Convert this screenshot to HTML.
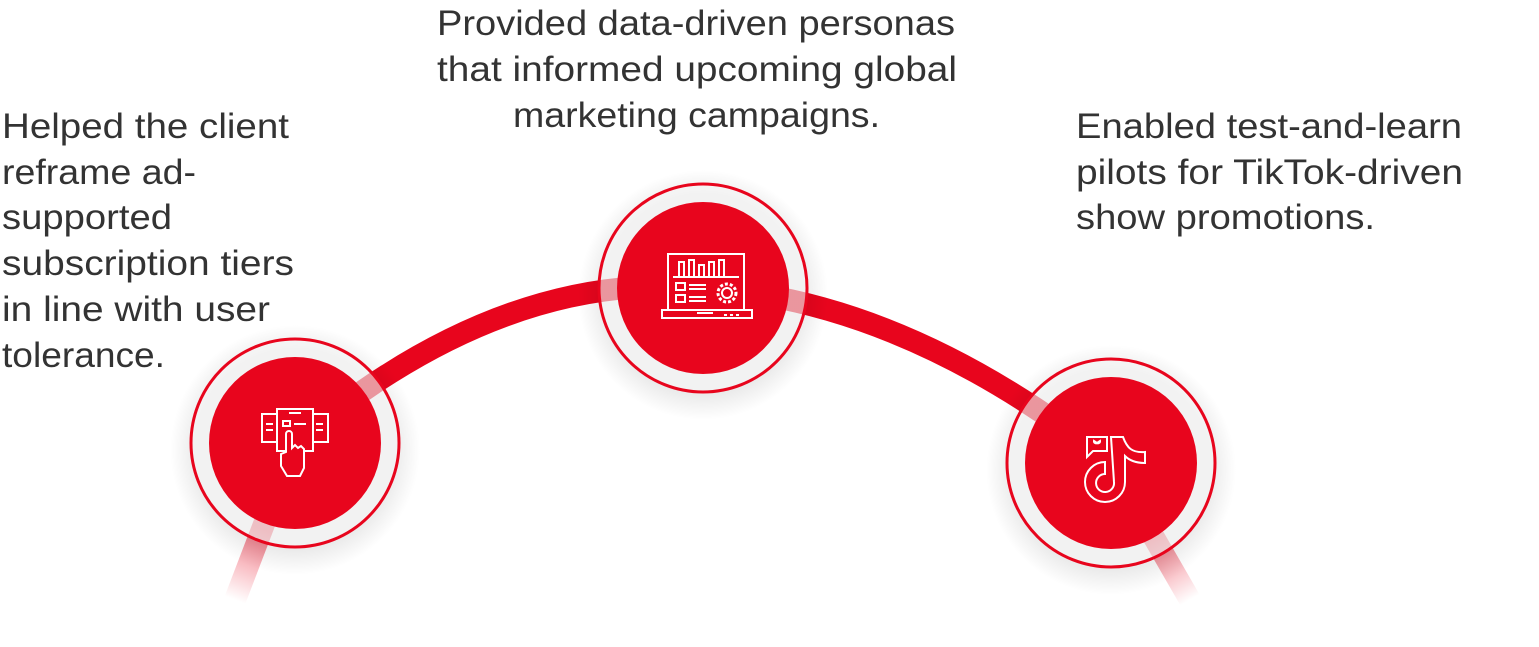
<!DOCTYPE html>
<html><head><meta charset="utf-8"><style>
html,body{margin:0;padding:0;background:#fff;}
svg{display:block}
text{font-family:"Liberation Sans",sans-serif;font-size:35px;fill:#333;}
</style></head><body>
<svg width="1539" height="647" viewBox="0 0 1539 647" xmlns="http://www.w3.org/2000/svg">
<defs>
<radialGradient id="sh" cx="50%" cy="50%" r="50%">
<stop offset="0.8" stop-color="#000" stop-opacity="0.08"/>
<stop offset="1" stop-color="#000" stop-opacity="0"/>
</radialGradient>
<linearGradient id="t1" x1="295" y1="443" x2="235" y2="600" gradientUnits="userSpaceOnUse">
<stop offset="0.55" stop-color="#e8051d" stop-opacity="0.55"/><stop offset="1" stop-color="#e8051d" stop-opacity="0"/>
</linearGradient>
<linearGradient id="t3" x1="1111" y1="463" x2="1190" y2="600" gradientUnits="userSpaceOnUse">
<stop offset="0.55" stop-color="#e8051d" stop-opacity="0.55"/><stop offset="1" stop-color="#e8051d" stop-opacity="0"/>
</linearGradient>
</defs>
<!-- tails -->
<line x1="295" y1="443" x2="235" y2="600" stroke="url(#t1)" stroke-width="22"/>
<line x1="1111" y1="463" x2="1190" y2="600" stroke="url(#t3)" stroke-width="22"/>
<!-- arc -->
<path d="M295 443 Q500 270 703 288 Q905 300 1111 463" fill="none" stroke="#e8051d" stroke-width="22"/>
<!-- shadows -->
<circle cx="295" cy="450" r="125" fill="url(#sh)"/>
<circle cx="703" cy="295" r="125" fill="url(#sh)"/>
<circle cx="1111" cy="470" r="125" fill="url(#sh)"/>
<!-- circles -->
<g fill="#fff" stroke="#e8051d" stroke-width="3">
<circle cx="295" cy="443" r="104" fill="#f7f7f7" fill-opacity="0.6"/>
<circle cx="703" cy="288" r="104" fill="#f7f7f7" fill-opacity="0.6"/>
<circle cx="1111" cy="463" r="104" fill="#f7f7f7" fill-opacity="0.6"/>
</g>
<g fill="#e8051d">
<circle cx="295" cy="443" r="86"/>
<circle cx="703" cy="288" r="86"/>
<circle cx="1111" cy="463" r="86"/>
</g>
<!-- icon 1 -->
<g fill="none" stroke="#fff" stroke-width="2">
<rect x="262" y="414" width="66" height="28"/>
<rect x="277" y="409" width="36" height="42" fill="#e8051d"/>
<line x1="289" y1="413" x2="301" y2="413"/>
<rect x="283" y="421" width="7" height="5"/>
<line x1="294" y1="424" x2="306" y2="424"/>
<path d="M286 452 V434 a3 3 0 0 1 6 0 V448 l3 -3 l3 3 l3 -2 l3 3 V468 l-4 8 H287 l-6 -10 V454 Z" fill="#e8051d"/>
<line x1="266" y1="424" x2="273" y2="424"/><line x1="266" y1="430" x2="273" y2="430"/>
<line x1="316" y1="424" x2="323" y2="424"/><line x1="316" y1="430" x2="323" y2="430"/>
</g>
<!-- icon 2 -->
<g fill="none" stroke="#fff" stroke-width="2">
<rect x="668" y="254" width="76" height="56"/>
<path d="M662 310 H752 V318 H662 Z"/>
<line x1="697" y1="313" x2="713" y2="313"/>
<line x1="724" y1="315" x2="742" y2="315" stroke-dasharray="3 3"/>
<line x1="673" y1="277" x2="739" y2="277"/>
<rect x="679" y="262" width="5" height="15"/><rect x="689" y="260" width="5" height="17"/><rect x="699" y="265" width="5" height="12"/><rect x="709" y="262" width="5" height="15"/><rect x="719" y="260" width="5" height="17"/>
<rect x="676" y="283" width="9" height="7"/><rect x="676" y="295" width="9" height="7"/>
<line x1="689" y1="285" x2="706" y2="285"/><line x1="689" y1="289" x2="706" y2="289"/>
<line x1="689" y1="297" x2="706" y2="297"/><line x1="689" y1="301" x2="706" y2="301"/>
<circle cx="727" cy="293" r="9" stroke-dasharray="3 2" stroke-width="3"/>
<circle cx="727" cy="293" r="5"/>
</g>
<!-- icon 3 -->
<g fill="none" stroke="#fff" stroke-width="2">
<path d="M1087 437 H1107 V451 H1093 L1087 457 Z"/>
<path d="M1097 443 l-3 -2 a2 2 0 0 0 3 2 a2 2 0 0 0 3 -2 z" fill="#fff"/>
<path d="M1111 437 H1123 C1127 448 1132 453 1145 452 V463 C1135 463 1129 460 1125 456 V482 A20 20 0 1 1 1105 462 V474 A9 9 0 1 0 1114 482 Z"/>
</g>
<!-- text -->
<text x="2" y="138" textLength="287" lengthAdjust="spacingAndGlyphs">Helped the client</text>
<text x="2" y="184" textLength="194" lengthAdjust="spacingAndGlyphs">reframe ad-</text>
<text x="2" y="229" textLength="170" lengthAdjust="spacingAndGlyphs">supported</text>
<text x="2" y="275" textLength="292" lengthAdjust="spacingAndGlyphs">subscription tiers</text>
<text x="2" y="321" textLength="268" lengthAdjust="spacingAndGlyphs">in line with user</text>
<text x="2" y="367" textLength="163" lengthAdjust="spacingAndGlyphs">tolerance.</text>
<text x="437" y="35" textLength="518" lengthAdjust="spacingAndGlyphs">Provided data-driven personas</text>
<text x="437" y="81" textLength="520" lengthAdjust="spacingAndGlyphs">that informed upcoming global</text>
<text x="513" y="127" textLength="367" lengthAdjust="spacingAndGlyphs">marketing campaigns.</text>
<text x="1076" y="138" textLength="386" lengthAdjust="spacingAndGlyphs">Enabled test-and-learn</text>
<text x="1076" y="184" textLength="387" lengthAdjust="spacingAndGlyphs">pilots for TikTok-driven</text>
<text x="1076" y="229" textLength="299" lengthAdjust="spacingAndGlyphs">show promotions.</text>
</svg>
</body></html>
